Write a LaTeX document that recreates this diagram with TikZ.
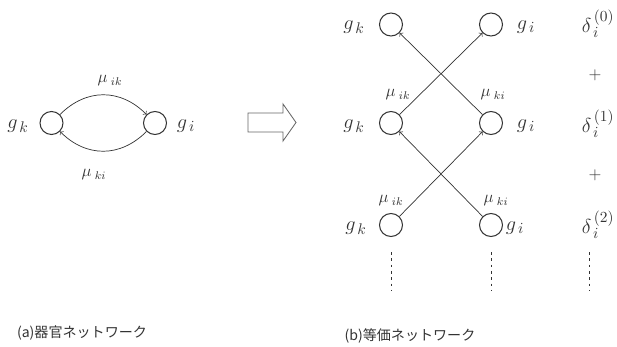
\documentclass[tikz,border=0pt]{standalone}
\usepackage{fontspec}
\newfontfamily\cjk{Noto Sans CJK JP}
\begin{document}
\begin{tikzpicture}[x=0.025cm,y=-0.025cm,line width=.5pt,color=black!80,
  organ/.style={circle,draw,line width=.75pt,minimum size=0.575cm,inner sep=0pt},
  flow/.style={->,>=to},
  glabel/.style={inner sep=1pt,font=\fontsize{15}{18}\selectfont},
  rate/.style={inner sep=1pt,font=\fontsize{12}{14}\selectfont},
  caption/.style={inner sep=1pt,font=\cjk\fontsize{10}{12}\selectfont},
  vdots/.style={dash pattern=on 2pt off 2.5pt,line width=.4pt}]
\useasboundingbox (0,0) rectangle (617,347);
% (a) organ network
\node[organ] (ak) at (51.5,123) {};
\node[organ] (ai) at (155,123) {};
\node[glabel] (akl) at (18,126) {$g_{\,k}$};
\node[glabel] (ail) at (186,126) {$g_{\,i}$};
\draw[flow] (ak) to[bend left=45,looseness=1.1] (ai);
\draw[flow] (ai) to[bend left=45,looseness=1.1] (ak);
\node[rate] (aik) at (110,81) {$\mu_{\;ik}$};
\node[rate] (aki) at (94,175) {$\mu_{\;ki}$};
\node[caption] (capa) at (82,333) {(a)器官ネットワーク};
% big arrow
\draw[line width=.6pt,black!60] (248,113)--(283,113)--(283,104)--(296,122.5)--(283,141)--(283,132)--(248,132)--cycle;
% (b) equivalent network
\node[organ] (kt) at (391,24.5) {};
\node[organ] (it) at (491,24.5) {};
\node[organ] (km) at (391,123) {};
\node[organ] (im) at (491,123) {};
\node[organ] (kb) at (391,225) {};
\node[organ] (ib) at (491,225) {};
\node[glabel] (ktl) at (354,27) {$g_{\,k}$};
\node[glabel] (itl) at (526,27) {$g_{\,i}$};
\node[glabel] (kml) at (354,126) {$g_{\,k}$};
\node[glabel] (iml) at (526,126) {$g_{\,i}$};
\node[glabel] (kbl) at (356,228) {$g_{\,k}$};
\node[glabel] (ibl) at (515,228) {$g_{\,i}$};
\draw[flow] (km) -- (it);
\draw[flow] (im) -- (kt);
\draw[flow] (kb) -- (im);
\draw[flow] (ib) -- (km);
\node[rate] (bik1) at (398,95) {$\mu_{\;ik}$};
\node[rate] (bki1) at (493,95) {$\mu_{\;ki}$};
\node[rate] (bik2) at (391,201) {$\mu_{\;ik}$};
\node[rate] (bki2) at (496,201) {$\mu_{\;ki}$};
\node[glabel] (d0) at (598,24) {$\delta_{\,i}^{\,(0)}$};
\node[rate] (p1) at (595,75) {$+$};
\node[glabel] (d1) at (598,124) {$\delta_{\,i}^{\,(1)}$};
\node[rate] (p2) at (595,175) {$+$};
\node[glabel] (d2) at (598,225) {$\delta_{\,i}^{\,(2)}$};
\draw[vdots] (kb) ++(0,27) -- ++(0,38);
\draw[vdots] (ib) ++(0,27) -- ++(0,38);
\draw[vdots] (d2) ++(-9,27) -- ++(0,38);
\node[caption] (capb) at (410,336) {(b)等価ネットワーク};
\end{tikzpicture}
\end{document}
